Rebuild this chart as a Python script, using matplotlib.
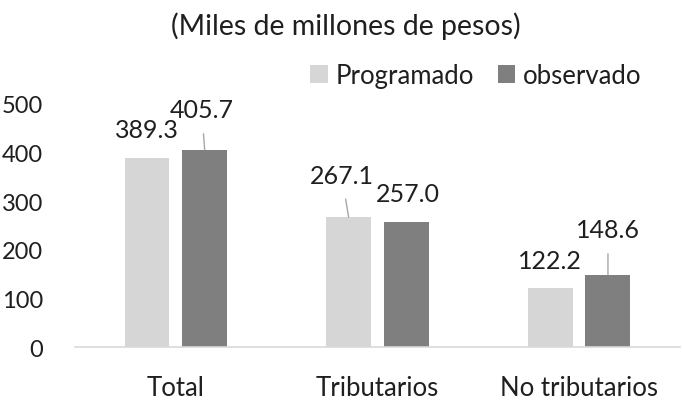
import matplotlib
matplotlib.use('Agg')
import matplotlib.pyplot as plt
import numpy as np

plt.rcParams['font.family'] = ['Lato', 'DejaVu Sans']

categories = ['Total', 'Tributarios', 'No tributarios']
programado = [389.3, 267.1, 122.2]
observado = [405.7, 257.0, 148.6]
series_names = ['Programado', 'observado']
yticks = [0, 100, 200, 300, 400, 500]

light = '#d6d6d6'
dark = '#7f7f7f'
txt = '#1f1f1f'

fig = plt.figure(figsize=(6.82, 4.02), dpi=100)
ax = fig.add_axes([0.110, 0.134, 0.887, 0.605])

x = np.arange(len(categories))
w = 0.223
off = 0.143
ax.bar(x - off, programado, w, color=light, label=series_names[0])
ax.bar(x + off, observado, w, color=dark, label=series_names[1])

ax.set_xlim(-0.5, 2.5)
ax.set_ylim(0, 500)
ax.set_yticks(yticks)
ax.set_xticks(x)
ax.set_xticklabels(categories)
ax.tick_params(axis='both', length=0, colors=txt)
ax.tick_params(axis='x', labelsize=18.5, pad=20)
ax.tick_params(axis='y', labelsize=17, pad=23)
for s in ['top', 'right', 'left']:
    ax.spines[s].set_visible(False)
ax.spines['bottom'].set_color('#d9d9d9')
ax.spines['bottom'].set_linewidth(1.2)

# data labels: (dx, dy) pixel offset of text centre from bar top, leader or not
lab_prog = [(0, 28, False), (-7, 42, True), (0, 27, False)]
lab_obs = [(-3, 40, True), (2, 29, False), (0, 45, True)]

def label_bars(xs, vals, specs):
    for xi, v, (dx, dy, lead) in zip(xs, vals, specs):
        arrow = None
        if lead:
            arrow = dict(arrowstyle='-', color='#a6a6a6', lw=1, shrinkA=7, shrinkB=0)
        ax.annotate(f'{v:.1f}', xy=(xi, v), xytext=(dx, dy), textcoords='offset pixels',
                    ha='center', va='center', fontsize=18, color=txt, arrowprops=arrow)

label_bars(x - off, programado, lab_prog)
label_bars(x + off, observado, lab_obs)

fig.text(0.507, 0.935, '(Miles de millones de pesos)', ha='center', va='center',
         fontsize=20.5, color=txt)

ax.legend(loc='center right', bbox_to_anchor=(0.975, 1.115), ncol=2, frameon=False,
          fontsize=18.5, handlelength=0.7, handleheight=0.7, handletextpad=0.3,
          columnspacing=0.9, labelcolor=txt)

fig.savefig('out.png', dpi=100)
